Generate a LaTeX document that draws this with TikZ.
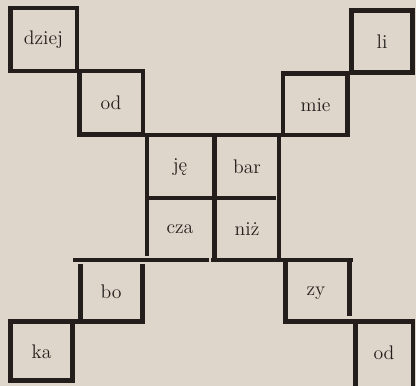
\documentclass[tikz,border=0pt]{standalone}
\usepackage{tikz}
\definecolor{Paper}{HTML}{DED6CA}
\definecolor{Ink}{HTML}{231E1C}

\begin{document}
\begin{tikzpicture}[x=0.025cm, y=-0.025cm,
    wall/.style={Ink, line width=3.5pt, line cap=rect},
    syl/.style={text=Ink, font=\fontsize{14}{16}\selectfont, inner sep=1pt}]
  \fill[Paper] (0,0) rectangle (416,386);
  \useasboundingbox (0,0) rectangle (416,386);
  % corner boxes, upper half
  \draw[wall] (10.5,8) rectangle (77,71);
  \draw[wall] (79.5,71) rectangle (143,134.5);
  \draw[wall] (351.5,10.5) rectangle (412.5,72.5);
  \draw[wall] (283,73.5) rectangle (347.5,135);
  % centre block
  \draw[wall] (79.5,135) -- (283,135);
  \draw[wall] (147,135) -- (147,254);
  \draw[wall] (214.5,135) -- (214.5,260);
  \draw[wall] (279,135) -- (279,258);
  \draw[wall] (150,198) -- (204,198);
  \draw[wall] (208,198) -- (274,198);
  \draw[wall] (75,260) -- (207,260);
  \draw[wall] (213,260) -- (351,260);
  % corner boxes, lower half
  \draw[wall] (80.5,266) -- (80.5,321.5);
  \draw[wall] (142.5,266) -- (142.5,321.5);
  \draw[wall] (10.5,321.5) -- (142.5,321.5);
  \draw[wall] (10.5,321.5) -- (10.5,380.5) -- (72.5,380.5) -- (72.5,321.5);
  \draw[wall] (285.5,263) -- (285.5,321.5);
  \draw[wall] (349.5,260) -- (349.5,314);
  \draw[wall] (285.5,321.5) -- (413,321.5);
  \draw[wall] (355.5,321.5) -- (355.5,388);
  \draw[wall] (413,321.5) -- (413,388);
  % syllables
  \node[syl] (dziej) at (43.5,40) {dziej};
  \node[syl] (odA) at (111,103) {od};
  \node[syl] (je) at (180,167) {ję};
  \node[syl] (bar) at (247,167) {bar};
  \node[syl] (cza) at (180,229) {cza};
  \node[syl] (niz) at (247,229) {niż};
  \node[syl] (mie) at (315.5,105) {mie};
  \node[syl] (li) at (382,42) {li};
  \node[syl] (bo) at (111,292) {bo};
  \node[syl] (ka) at (41.5,352) {ka};
  \node[syl] (zy) at (316,293) {zy};
  \node[syl] (odB) at (384,353) {od};
\end{tikzpicture}
\end{document}
